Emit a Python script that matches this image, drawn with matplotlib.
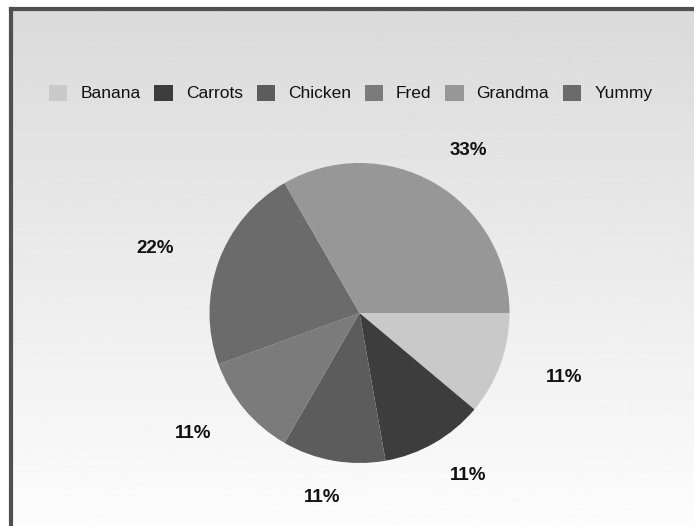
import numpy as np
import matplotlib
matplotlib.use("Agg")
import matplotlib.pyplot as plt
from matplotlib.patches import Patch
from matplotlib.lines import Line2D

# ---- data ----
categories = ["Banana", "Carrots", "Chicken", "Fred", "Yummy", "Grandma"]
values = [1, 1, 1, 1, 2, 3]
colors = ["#c9c9c9", "#3d3d3d", "#5c5c5c", "#7b7b7b", "#6b6b6b", "#979797"]
legend_order = ["Banana", "Carrots", "Chicken", "Fred", "Grandma", "Yummy"]

W, H = 694, 526
fig = plt.figure(figsize=(W / 100, H / 100), dpi=100)
fig.patch.set_facecolor("white")
ax = fig.add_axes([0, 0, 1, 1])
ax.set_xlim(0, W)
ax.set_ylim(0, H)
ax.set_aspect("equal")
ax.axis("off")

# background gradient inside frame
grad = np.linspace(0.855, 0.99, 256).reshape(-1, 1)
ax.imshow(grad, cmap="gray", vmin=0, vmax=1, extent=[11, W, 0, H - 9],
          origin="upper", aspect="auto", zorder=0)
# frame (left and top)
ax.add_line(Line2D([11, 11], [0, H - 9], color="#505050", lw=3.0, zorder=1,
                   solid_capstyle="projecting"))
ax.add_line(Line2D([11, W], [H - 9, H - 9], color="#505050", lw=3.0, zorder=1,
                   solid_capstyle="projecting"))

cx, cy, r = 359.5, H - 313, 150
wedges, _ = ax.pie(values, colors=colors, startangle=0, counterclock=False,
                   center=(cx, cy), radius=r, frame=True,
                   wedgeprops=dict(linewidth=0))
ax.set_xlim(0, W)
ax.set_ylim(0, H)
ax.axis("off")

total = sum(values)
for w, v in zip(wedges, values):
    th = np.deg2rad((w.theta1 + w.theta2) / 2)
    x = cx + 1.45 * r * np.cos(th)
    y = cy + 1.25 * r * np.sin(th)
    ax.text(x, y, f"{round(100 * v / total)}%", ha="center", va="center",
            fontsize=13.5, fontweight="bold", family="Liberation Sans",
            color="#111111", zorder=3)

cmap = dict(zip(categories, colors))
handles = [Patch(facecolor=cmap[c], edgecolor="none", label=c) for c in legend_order]
leg = fig.legend(handles=handles, loc="center left", ncol=6,
                 bbox_to_anchor=(49 / W, 1 - 93 / H), frameon=False,
                 prop=dict(family="Liberation Sans", size=12.5),
                 handlelength=1.05, handleheight=1.05, handletextpad=0.75,
                 columnspacing=0.8, borderpad=0, borderaxespad=0)
for t in leg.get_texts():
    t.set_color("#111111")

fig.savefig("out.png", dpi=100)
